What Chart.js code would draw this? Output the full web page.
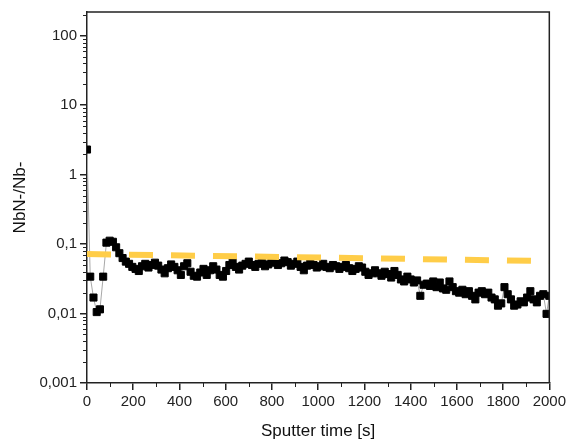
<!DOCTYPE html>
<html>
<head>
<meta charset="utf-8">
<script src="https://cdn.jsdelivr.net/npm/chart.js@4/dist/chart.umd.min.js"></script>
<style>
html,body{margin:0;padding:0;background:#fff;}
#wrap{width:569px;height:444px;position:relative;}
</style>
</head>
<body>
<div id="wrap"><canvas id="c" width="569" height="444"></canvas></div>
<script>
// Sputter time [s]
const times = [
0,14,28,42,56,70,84,98,112,126,
140,154,168,182,196,210,224,238,252,266,
280,294,308,322,336,350,364,378,392,406,
420,434,448,462,476,490,504,518,532,546,
560,574,588,602,616,630,644,658,672,686,
700,714,728,742,756,770,784,798,812,826,
840,854,868,882,896,910,924,938,952,966,
980,994,1008,1022,1036,1050,1064,1078,1092,1106,
1120,1134,1148,1162,1176,1190,1204,1218,1232,1246,
1260,1274,1288,1302,1316,1330,1344,1358,1372,1386,
1400,1414,1428,1442,1456,1470,1484,1498,1512,1526,
1540,1554,1568,1582,1596,1610,1624,1638,1652,1666,
1680,1694,1708,1722,1736,1750,1764,1778,1792,1806,
1820,1834,1848,1862,1876,1890,1904,1918,1932,1946,
1960,1974,1988,2000
];
// NbN-/Nb- ratio
const ratio = [
2.3,0.034,0.017,0.0105,0.0115,0.034,0.105,0.112,0.108,0.09,
0.074,0.063,0.056,0.052,0.047,0.044,0.041,0.048,0.052,0.046,
0.05,0.054,0.049,0.043,0.038,0.045,0.051,0.047,0.042,0.036,
0.048,0.053,0.04,0.035,0.034,0.039,0.044,0.036,0.042,0.048,
0.043,0.036,0.034,0.041,0.05,0.055,0.047,0.043,0.049,0.052,
0.056,0.05,0.047,0.052,0.055,0.048,0.051,0.054,0.057,0.05,
0.053,0.058,0.055,0.049,0.052,0.056,0.047,0.042,0.049,0.054,
0.05,0.046,0.048,0.052,0.047,0.045,0.05,0.048,0.044,0.047,
0.05,0.045,0.041,0.044,0.048,0.046,0.04,0.036,0.038,0.042,
0.038,0.035,0.04,0.037,0.033,0.041,0.036,0.031,0.029,0.034,
0.031,0.028,0.03,0.018,0.026,0.027,0.025,0.029,0.024,0.028,
0.023,0.022,0.029,0.024,0.021,0.02,0.022,0.019,0.021,0.018,
0.016,0.02,0.021,0.019,0.02,0.017,0.016,0.013,0.014,0.024,
0.019,0.016,0.013,0.0135,0.015,0.0145,0.017,0.021,0.016,0.0145,
0.018,0.019,0.0099,0.018
];
// Dashed reference line (start / end)
const refTimes = [0, 2000];
const refRatio = [0.072, 0.057];

const xTickValues = [0,200,400,600,800,1000,1200,1400,1600,1800,2000];
const xTickLabels = ['0','200','400','600','800','1000','1200','1400','1600','1800','2000'];
const xMinorValues = [100,300,500,700,900,1100,1300,1500,1700,1900];
const yTickValues = [0.001,0.01,0.1,1,10,100];
const yTickLabels = ['0,001','0,01','0,1','1','10','100'];
const yDecades = [0.001,0.01,0.1,1,10,100];
const yMinorFactors = [2,3,4,5,6,7,8,9];

const xTitle = 'Sputter time [s]';
const yTitle = 'NbN-/Nb-';

const FONT = "'Liberation Sans', Arial, sans-serif";
const AXC = '#222';

const mainData = times.map((t,i)=>({x:t,y:ratio[i]}));
const refData = refTimes.map((t,i)=>({x:t,y:refRatio[i]}));

const framePlugin = {
  id:'frame',
  afterDraw(chart){
    const {ctx, chartArea:{left,right,top,bottom}, scales:{x,y}} = chart;
    ctx.save();
    ctx.strokeStyle = AXC;
    ctx.lineWidth = 1.5;
    ctx.beginPath();
    ctx.moveTo(left,top); ctx.lineTo(right,top); ctx.lineTo(right,bottom);
    ctx.stroke();
    ctx.lineWidth = 1;
    ctx.beginPath();
    yDecades.forEach(d=>{
      yMinorFactors.forEach(f=>{
        const v = d*f;
        if (v > y.max) return;
        const py = Math.round(y.getPixelForValue(v))+0.5;
        ctx.moveTo(left-4,py); ctx.lineTo(left,py);
      });
    });
    xMinorValues.forEach(v=>{
      const px = Math.round(x.getPixelForValue(v))+0.5;
      ctx.moveTo(px,bottom); ctx.lineTo(px,bottom+4);
    });
    ctx.stroke();
    ctx.restore();
  }
};

new Chart(document.getElementById('c'), {
  type:'scatter',
  data:{
    datasets:[
      {
        data: refData,
        showLine:true,
        borderColor:'rgb(255,205,72)',
        borderWidth:6,
        borderDash:[24,18],
        pointRadius:0,
        order:0,
        clip:0
      },
      {
        data: mainData,
        showLine:true,
        borderColor:'#a8a8a8',
        borderWidth:1,
        pointStyle:'rect',
        pointRadius:5,
        pointBorderWidth:1,
        pointBackgroundColor:'#000',
        pointBorderColor:'#000',
        order:1,
        clip:0
      }
    ]
  },
  options:{
    responsive:false,
    animation:false,
    devicePixelRatio:1,
    layout:{padding:{top:10,right:17,left:0,bottom:0}},
    plugins:{legend:{display:false},tooltip:{enabled:false}},
    scales:{
      x:{
        type:'linear',
        min:0,max:2000,
        afterFit(s){ s.height = 61; },
        afterBuildTicks(s){ s.ticks = xTickValues.map(v=>({value:v})); },
        ticks:{
          autoSkip:false, maxRotation:0, padding:3,
          color:AXC, font:{family:FONT,size:15},
          callback:(v,i)=>xTickLabels[i]
        },
        grid:{drawOnChartArea:false,drawTicks:true,tickLength:7,color:AXC,lineWidth:1.5},
        border:{display:true,color:AXC,width:1.5},
        title:{display:true,text:xTitle,color:'#111',font:{family:FONT,size:17},padding:{top:0,bottom:2}}
      },
      y:{
        type:'logarithmic',
        min:0.001,max:220,
        afterFit(s){ s.width = 87; },
        afterBuildTicks(s){ s.ticks = yTickValues.map(v=>({value:v})); },
        ticks:{
          autoSkip:false, padding:3,
          color:AXC, font:{family:FONT,size:15},
          callback:(v,i)=>yTickLabels[i]
        },
        grid:{drawOnChartArea:false,drawTicks:true,tickLength:7,color:AXC,lineWidth:1.5},
        border:{display:true,color:AXC,width:1.5},
        title:{display:true,text:yTitle,color:'#111',font:{family:FONT,size:17},padding:{top:10,bottom:10}}
      }
    }
  },
  plugins:[framePlugin]
});
</script>
</body>
</html>
